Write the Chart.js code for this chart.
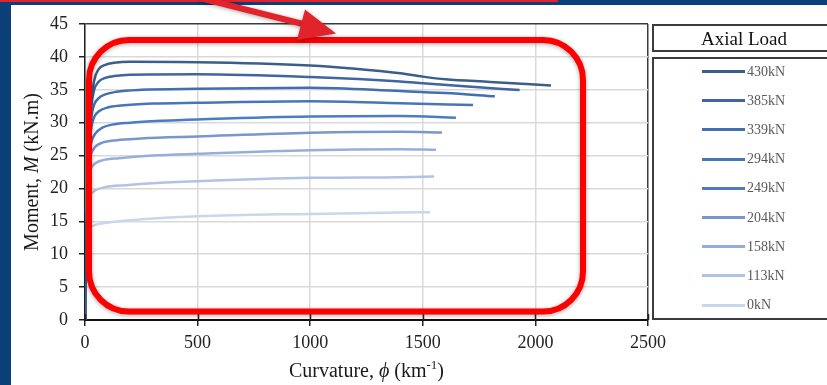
<!DOCTYPE html>
<html>
<head>
<meta charset="utf-8">
<script src="https://cdn.jsdelivr.net/npm/chart.js@4.4.1/dist/chart.umd.min.js"></script>
<style>
  html, body { margin: 0; padding: 0; background: #fff; }
  body { width: 827px; height: 385px; position: relative; overflow: hidden;
         font-family: 'Liberation Serif', 'Times New Roman', serif; }
  #chart { position: absolute; left: 0; top: 0; }
  .band-left { position: absolute; left: 0; top: 0; width: 11px; height: 385px; background: #0a3f78; }
  .band-top  { position: absolute; left: 0; top: 0; width: 827px; height: 5px; background: #0a3f78; }
  .band-red  { position: absolute; left: 0; top: 0; width: 558px; height: 2px; background: #e3232b; }
  .leg-title { position: absolute; left: 652px; top: 24px; width: 180px; height: 24px;
               border: 2px solid #3c3c3c; font-size: 19px; line-height: 26px; text-align: center; color: #111; }
  .leg-box   { position: absolute; left: 652px; top: 57px; width: 190px; height: 259px; border: 2px solid #3c3c3c; }
  .leg-line  { position: absolute; left: 702px; width: 43px; height: 3px; }
  .leg-text  { position: absolute; left: 747px; font-size: 14px; line-height: 14px; color: #595959; }
</style>
</head>
<body>
<div class="band-left"></div>
<div class="band-top"></div>
<div class="band-red"></div>
<canvas id="chart" width="827" height="385"></canvas>
<div class="leg-title">Axial Load</div>
<div class="leg-box"></div>
<div id="legend"></div>

<script>
/* ── Data (curvature in km⁻¹, moment in kN.m) ── */
const loads  = ['430kN', '385kN', '339kN', '294kN', '249kN', '204kN', '158kN', '113kN', '0kN'];
const colors = ['#3b5e8c', '#3f66a0', '#426fae', '#4676b8', '#4c7dc1', '#7897cc', '#96aed9', '#b1c3e3', '#cad6ec'];

const phi430 = [0, 15, 28, 40, 60, 90, 130, 200, 500, 1000, 1200, 1400, 1500, 1600, 1800, 2069];
const m430   = [0, 26, 33, 36.3, 38.1, 38.8, 39.1, 39.25, 39.2, 38.7, 38.2, 37.5, 37.0, 36.6, 36.2, 35.66];
const phi385 = [0, 15, 28, 40, 60, 90, 130, 200, 500, 1000, 1400, 1500, 1700, 1930];
const m385   = [0, 26, 32.5, 34.9, 36.2, 36.8, 37.1, 37.3, 37.35, 36.93, 36.27, 36.0, 35.5, 34.95];
const phi339 = [0, 15, 28, 40, 60, 90, 140, 250, 500, 1000, 1400, 1600, 1820];
const m339   = [0, 25, 30.8, 32.7, 33.7, 34.3, 34.7, 35.0, 35.16, 35.31, 34.8, 34.5, 34.0];
const phi294 = [0, 15, 28, 40, 65, 100, 160, 300, 500, 1000, 1400, 1723];
const m294   = [0, 24, 29.2, 30.8, 31.8, 32.3, 32.6, 32.9, 33.03, 33.27, 32.97, 32.67];
const phi249 = [0, 14, 28, 45, 75, 120, 200, 350, 500, 1000, 1400, 1647];
const m249   = [0, 23, 27, 28.3, 29.2, 29.7, 30.0, 30.3, 30.49, 30.94, 31.0, 30.74];
const phi204 = [0, 13, 26, 45, 80, 130, 250, 500, 1000, 1400, 1585];
const m204   = [0, 22, 25.2, 26.3, 27.0, 27.3, 27.6, 27.9, 28.46, 28.62, 28.5];
const phi158 = [0, 12, 25, 45, 80, 150, 300, 500, 1000, 1400, 1559];
const m158   = [0, 20, 22.9, 23.8, 24.3, 24.6, 25.0, 25.27, 25.81, 25.95, 25.87];
const phi113 = [0, 10, 22, 45, 90, 180, 300, 500, 1000, 1400, 1550];
const m113   = [0, 17, 19.0, 19.7, 20.2, 20.5, 20.8, 21.1, 21.61, 21.72, 21.81];
const phi0   = [0, 8, 20, 50, 120, 250, 500, 1000, 1400, 1532];
const m0     = [0, 12.5, 14.0, 14.5, 14.9, 15.3, 15.77, 16.13, 16.33, 16.38];

const xTicks = [0, 500, 1000, 1500, 2000, 2500];
const yTicks = [0, 5, 10, 15, 20, 25, 30, 35, 40, 45];

const series = [
  [phi430, m430], [phi385, m385], [phi339, m339], [phi294, m294], [phi249, m249],
  [phi204, m204], [phi158, m158], [phi113, m113], [phi0, m0]
];

const SERIF = "'Liberation Serif', 'Times New Roman', serif";

/* ── Legend (HTML) ── */
const legendEl = document.getElementById('legend');
loads.forEach((lab, i) => {
  const yc = 71.5 + i * 29.2;
  legendEl.innerHTML +=
    `<div class="leg-line" style="top:${yc - 1.5}px;background:${colors[i]}"></div>` +
    `<div class="leg-text" style="top:${yc - 7}px">${lab}</div>`;
});

/* ── Overlay: axis titles, cross ticks, highlight box, arrow ── */
function drawRuns(c, runs, x, y) {
  // runs: [text, font, dy]; draws centred on x
  let total = 0;
  runs.forEach(r => { c.font = r[1]; total += c.measureText(r[0]).width; });
  let cx = x - total / 2;
  runs.forEach(r => {
    c.font = r[1];
    c.fillText(r[0], cx, y + (r[2] || 0));
    cx += c.measureText(r[0]).width;
  });
}

const overlay = {
  id: 'overlay',
  afterDraw(chart) {
    const c = chart.ctx, a = chart.chartArea, xs = chart.scales.x;
    c.save();

    // inner half of x-axis tick marks
    c.strokeStyle = '#222'; c.lineWidth = 1.5;
    xTicks.forEach(v => {
      const px = Math.round(xs.getPixelForValue(v)) + 0.5;
      c.beginPath(); c.moveTo(px, a.bottom - 6); c.lineTo(px, a.bottom); c.stroke();
    });

    // axis titles
    c.fillStyle = '#1a1a1a'; c.textBaseline = 'middle'; c.textAlign = 'left';
    drawRuns(c, [
      ['Curvature, ', `20px ${SERIF}`],
      ['\u03D5', `italic 20px ${SERIF}`],
      [' (km', `20px ${SERIF}`],
      ['-1', `13px ${SERIF}`, -6],
      [')', `20px ${SERIF}`]
    ], (a.left + a.right) / 2, 372);

    c.save();
    c.translate(33, (a.top + a.bottom) / 2);
    c.rotate(-Math.PI / 2);
    drawRuns(c, [
      ['Moment, ', `20px ${SERIF}`],
      ['M', `italic 20px ${SERIF}`],
      [' (kN.m)', `20px ${SERIF}`]
    ], 0, 0);
    c.restore();

    // red highlight box
    const bx = 89, by = 40, bw = 494, bh = 271.5, r = 40;
    c.shadowColor = 'rgba(0,0,0,0.35)'; c.shadowBlur = 4; c.shadowOffsetY = 1;
    c.strokeStyle = '#ff0000'; c.lineWidth = 6;
    c.beginPath();
    c.moveTo(bx + r, by);
    c.arcTo(bx + bw, by, bx + bw, by + bh, r);
    c.arcTo(bx + bw, by + bh, bx, by + bh, r);
    c.arcTo(bx, by + bh, bx, by, r);
    c.arcTo(bx, by, bx + bw, by, r);
    c.closePath();
    c.stroke();

    // arrow
    c.strokeStyle = '#e3232b'; c.fillStyle = '#e3232b'; c.lineWidth = 6; c.lineCap = 'butt';
    c.beginPath(); c.moveTo(200, -2); c.lineTo(303, 24); c.stroke();
    c.beginPath(); c.moveTo(305, 9.5); c.lineTo(336, 33.5); c.lineTo(297, 40); c.closePath(); c.fill();

    c.restore();
  }
};

/* ── Chart ── */
const gridColor = edge => ctx => (ctx.tick && ctx.tick.value === edge) ? '#3c3c3c' : '#d9d9d9';

new Chart(document.getElementById('chart'), {
  type: 'line',
  data: {
    datasets: series.map((s, i) => ({
      label: loads[i],
      data: s[0].map((x, k) => ({ x, y: s[1][k] })),
      borderColor: colors[i], borderWidth: 2.5,
      pointRadius: 0, fill: false,
      cubicInterpolationMode: 'monotone'
    }))
  },
  options: {
    responsive: false, animation: false,
    layout: { padding: { left: 11, top: 24, right: 179, bottom: 0 } },
    plugins: { legend: { display: false }, tooltip: { enabled: false } },
    scales: {
      x: {
        type: 'linear', min: 0, max: 2500,
        afterBuildTicks: s => { s.ticks = xTicks.map(v => ({ value: v })); },
        afterFit: s => { s.height = 65; },
        ticks: { color: '#222', padding: 6, font: { family: SERIF, size: 18 }, callback: v => String(v) },
        grid: { color: gridColor(2500), lineWidth: 1.5, tickLength: 6, tickColor: '#222', tickWidth: 1.5 },
        border: { color: '#111', width: 2 }
      },
      y: {
        min: 0, max: 45,
        afterBuildTicks: s => { s.ticks = yTicks.map(v => ({ value: v })); },
        afterFit: s => { s.width = 74; },
        ticks: { color: '#222', padding: 11, font: { family: SERIF, size: 18 }, callback: v => String(v) },
        grid: { color: gridColor(45), lineWidth: 1.5, tickLength: 6, tickColor: '#222', tickWidth: 1.5 },
        border: { color: '#222', width: 1.5 }
      }
    }
  },
  plugins: [overlay]
});
</script>
</body>
</html>
